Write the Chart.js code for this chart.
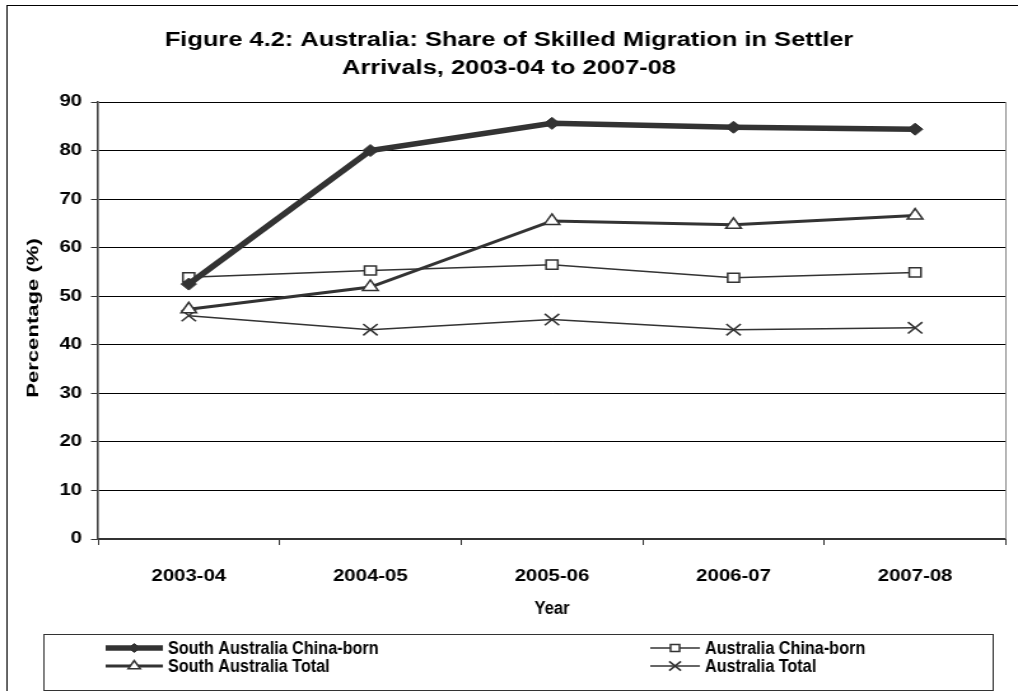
<!DOCTYPE html>
<html>
<head>
<meta charset="utf-8">
<script src="https://cdn.jsdelivr.net/npm/chart.js@4.4.0/dist/chart.umd.min.js"></script>
<style>
    html, body { margin: 0; padding: 0; background: #fff; overflow: hidden; }
    #wrap { width: 800px; height: 691px; transform: scaleX(1.2725); transform-origin: 0 0; }
</style>
</head>
<body>
<div id="wrap"><canvas id="chartSkilled" width="800" height="691"></canvas></div>
<script>
// Datos: proporción de migración calificada (%)
const years = ['2003-04', '2004-05', '2005-06', '2006-07', '2007-08'];
const saChinaBorn = [52.5, 80.0, 85.6, 84.8, 84.4];
const ausChinaBorn = [53.9, 55.3, 56.5, 53.8, 54.9];
const saTotal = [47.3, 51.9, 65.5, 64.7, 66.6];
const ausTotal = [46.0, 43.1, 45.2, 43.1, 43.5];
const seriesNames = ['South Australia China-born', 'Australia China-born', 'South Australia Total', 'Australia Total'];
const titleLines = ['Figure 4.2: Australia: Share of Skilled Migration in Settler', 'Arrivals, 2003-04 to 2007-08'];
const xTitle = 'Year';
const yTitle = 'Percentage (%)';

const FONT = '"Liberation Sans", Arial, sans-serif';
const INK = '#333';
const SX = 1.2725; // el lienzo se estira en horizontal con CSS

// texto con su propia escala horizontal (k = 1: sin estiramiento)
const plainText = (ctx, text, x, y, align, k) => {
    ctx.save();
    ctx.translate(x, y);
    ctx.scale(k / SX, 1);
    ctx.textAlign = align;
    ctx.fillText(text, 0, 0);
    ctx.restore();
};

// Marco, títulos, borde del área y leyenda
const frame = {
    id: 'frame',
    beforeDraw(chart) {
        const ctx = chart.ctx;
        ctx.save();
        ctx.fillStyle = '#fff';
        ctx.fillRect(0, 0, chart.width, chart.height);
        ctx.restore();
    },
    afterDraw(chart) {
        const ctx = chart.ctx;
        const a = chart.chartArea;
        ctx.save();
        // marco exterior
        ctx.strokeStyle = '#000';
        ctx.lineWidth = 1;
        ctx.strokeRect(5.5, 5.5, chart.width + 10, chart.height + 10);
        // borde derecho del área de trazado
        ctx.strokeStyle = '#888';
        ctx.beginPath();
        ctx.moveTo(a.right, a.top);
        ctx.lineTo(a.right, a.bottom);
        ctx.stroke();

        // título
        ctx.fillStyle = '#000';
        ctx.font = 'bold 20px ' + FONT;
        ctx.textAlign = 'center';
        ctx.textBaseline = 'middle';
        ctx.fillText(titleLines[0], 400, 40);
        ctx.fillText(titleLines[1], 400, 68);

        // títulos de ejes
        ctx.font = 'bold 17.5px ' + FONT;
        plainText(ctx, xTitle, (a.left + a.right) / 2, 609, 'center', 0.95);
        ctx.save();
        ctx.translate(26.3, 318);
        ctx.rotate(-Math.PI / 2);
        ctx.scale(1.3, 1 / SX);
        ctx.font = 'bold 17px ' + FONT;
        ctx.textAlign = 'center';
        ctx.fillText(yTitle, 0, 0);
        ctx.restore();

        // leyenda
        ctx.strokeStyle = INK;
        ctx.lineWidth = 1;
        ctx.strokeRect(34.5, 634.5, 746, 56);
        const slots = [
            { x0: 83, x1: 128, y: 648 },
            { x0: 511, x1: 550, y: 648 },
            { x0: 83, x1: 128, y: 666 },
            { x0: 511, x1: 550, y: 666 }
        ];
        chart.data.datasets.forEach((ds, i) => {
            const s = slots[i];
            ctx.strokeStyle = ds.borderColor;
            ctx.lineWidth = ds.borderWidth;
            ctx.beginPath();
            ctx.moveTo(s.x0, s.y);
            ctx.lineTo(s.x1, s.y);
            ctx.stroke();
            ctx.fillStyle = ds.pointBackgroundColor;
            ctx.strokeStyle = ds.borderColor;
            ctx.lineWidth = ds.pointBorderWidth;
            Chart.helpers.drawPoint(ctx, {
                pointStyle: ds.pointStyle,
                radius: ds.pointRadius - 1.5,
                borderWidth: ds.pointBorderWidth,
                rotation: 0
            }, (s.x0 + s.x1) / 2, s.y);
            ctx.fillStyle = '#000';
            ctx.font = 'bold 18px ' + FONT;
            ctx.textBaseline = 'middle';
            plainText(ctx, ds.label, s.x1 + 4, s.y + 1, 'left', 0.9);
        });
        ctx.restore();
    }
};

const tickFont = { family: FONT, size: 16, weight: 'bold' };

new Chart(document.getElementById('chartSkilled'), {
    type: 'line',
    data: {
        labels: years,
        datasets: [{
            label: seriesNames[0],
            data: saChinaBorn,
            borderColor: INK,
            borderWidth: 5.5,
            pointStyle: 'rectRot',
            pointRadius: 6,
            pointBackgroundColor: INK,
            pointBorderColor: INK,
            pointBorderWidth: 1
        }, {
            label: seriesNames[1],
            data: ausChinaBorn,
            borderColor: INK,
            borderWidth: 1.5,
            pointStyle: 'rect',
            pointRadius: 6.5,
            pointBackgroundColor: '#fff',
            pointBorderColor: INK,
            pointBorderWidth: 1.5
        }, {
            label: seriesNames[2],
            data: saTotal,
            borderColor: INK,
            borderWidth: 3,
            pointStyle: 'triangle',
            pointRadius: 7,
            pointBackgroundColor: '#fff',
            pointBorderColor: INK,
            pointBorderWidth: 1.5
        }, {
            label: seriesNames[3],
            data: ausTotal,
            borderColor: INK,
            borderWidth: 1.5,
            pointStyle: 'crossRot',
            pointRadius: 8,
            pointBackgroundColor: '#fff',
            pointBorderColor: INK,
            pointBorderWidth: 1.5
        }]
    },
    options: {
        responsive: false,
        animation: false,
        devicePixelRatio: 1,
        tension: 0,
        layout: { padding: { left: 5.5, right: 4, top: 102, bottom: 52 } },
        plugins: {
            legend: { display: false },
            title: { display: false },
            tooltip: { enabled: false }
        },
        scales: {
            x: {
                offset: true,
                afterFit: s => { s.height = 100; },
                grid: { offset: true, drawOnChartArea: false, tickLength: 6, color: INK, lineWidth: 1 },
                border: { color: INK, width: 2 },
                ticks: { font: tickFont, color: '#000', padding: 22.4, maxRotation: 0, autoSkip: false }
            },
            y: {
                min: 0,
                max: 90,
                afterFit: s => { s.width = 71.5; },
                ticks: { stepSize: 10, font: tickFont, color: '#000', padding: 7 },
                grid: { color: '#000', lineWidth: 1, tickLength: 5.5, tickColor: INK },
                border: { color: '#444', width: 1.6 }
            }
        }
    },
    plugins: [frame]
});
</script>
</body>
</html>
